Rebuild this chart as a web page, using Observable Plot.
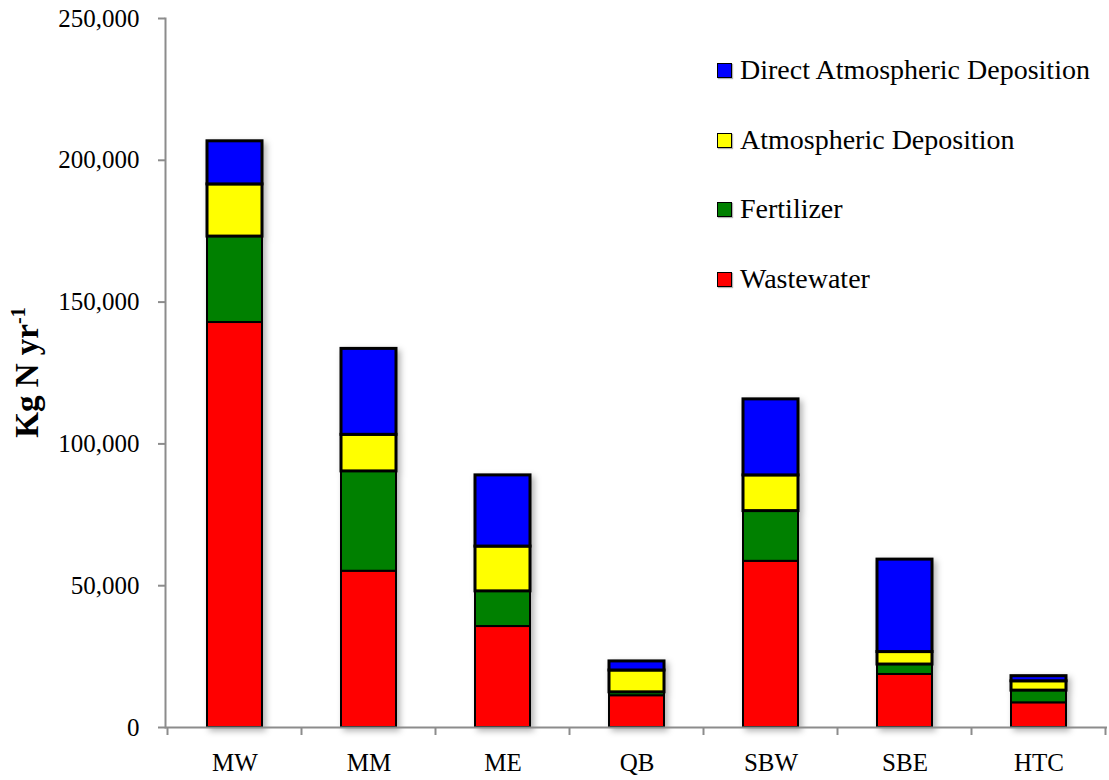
<!DOCTYPE html>
<html>
<head>
<meta charset="utf-8">
<script src="https://cdn.jsdelivr.net/npm/d3@7"></script>
<script src="https://cdn.jsdelivr.net/npm/@observablehq/plot@0.6"></script>
<style>
  body { margin: 0; background: #fff; font-family: "Liberation Serif", "Times New Roman", serif; }
  #chart { position: relative; width: 1109px; height: 780px; }
  .legend { position: absolute; left: 717px; top: 0; }
  .legend .row { position: absolute; left: 0; height: 30px; display: flex; align-items: center;
                 white-space: nowrap; font-size: 28px; color: #000; }
  .legend .sw { width: 13px; height: 13px; border: 1px solid #000; margin-right: 8px;
                box-shadow: 1px 1px 1px rgba(0,0,0,0.3); }
</style>
</head>
<body>
<div id="chart"></div>
<script>
// Nitrogen loads by watershed (kg N per year), one array per source
const sites = ["MW", "MM", "ME", "QB", "SBW", "SBE", "HTC"];
const sources = ["Wastewater", "Fertilizer", "Atmospheric Deposition", "Direct Atmospheric Deposition"];
const wastewater        = [142800, 55100, 35600, 11200, 58600, 18700, 8700];
const fertilizer        = [30300, 35200, 12400, 1200, 17700, 3500, 4300];
const atmospheric       = [18400, 12900, 15800, 7700, 12600, 4400, 3300];
const directAtmospheric = [15200, 30300, 25100, 3200, 26800, 32600, 1800];
const sourceColors = ["#ff0000", "#008000", "#ffff00", "#0000ff"];
const yTicks = [0, 50000, 100000, 150000, 200000, 250000];
const yTitle = "Kg N yr";
const yTitleSup = "-1";

const seriesValues = [wastewater, fertilizer, atmospheric, directAtmospheric];
const rows = sites.flatMap((site, i) =>
  sources.map((source, s) => ({ site, source, value: seriesValues[s][i] }))
);

const plot = Plot.plot({
  width: 1109,
  height: 780,
  marginLeft: 165,
  marginRight: 2,
  marginTop: 18,
  marginBottom: 53,
  style: { fontFamily: "Liberation Serif, Times New Roman, serif", fontSize: "25px", color: "#000", background: "#fff", overflow: "visible" },
  x: { domain: sites, paddingInner: 0.59, paddingOuter: 0.295, label: null },
  y: { domain: [0, 250000], label: null },
  color: { domain: sources, range: sourceColors },
  marks: [
    Plot.barY(rows, {
      x: "site", y: "value", fill: "source", order: sources,
      stroke: "#000",
      strokeWidth: d => d.source.endsWith("Deposition") ? 3 : 2
    }),
    Plot.ruleY([0], { stroke: "#8c8c8c", strokeWidth: 2 }),
    Plot.frame({ anchor: "left", stroke: "#8c8c8c", strokeWidth: 2 }),
    Plot.axisY({ ticks: yTicks, tickFormat: d3.format(","), tickSize: 7, tickPadding: 19,
                 stroke: "#8c8c8c", strokeWidth: 2, fill: "#000", label: null }),
    Plot.axisX({ tickSize: 0, tickPadding: 26, fill: "#000", label: null })
  ]
});

const chart = document.getElementById("chart");
chart.appendChild(plot);

const svg = d3.select(plot);
svg.selectAll("g[aria-label='bar']").style("filter", "drop-shadow(3px 3px 3px rgba(0,0,0,0.3))");

// Category separator ticks below the x axis, placed at the band edges
const xs = plot.scale("x");
const ys = plot.scale("y");
const starts = sites.map(s => xs.apply(s));
const step = starts[1] - starts[0];
const gap = (step - xs.bandwidth) / 2;
const edges = starts.map(v => v - gap).concat([starts[starts.length - 1] - gap + step]);
const y0 = ys.apply(0);
svg.append("g")
  .selectAll("line")
  .data(edges)
  .join("line")
  .attr("x1", d => d).attr("x2", d => d)
  .attr("y1", y0).attr("y2", y0 + 8)
  .attr("stroke", "#8c8c8c").attr("stroke-width", 2);

// Rotated y-axis title with superscript exponent
const yMid = (ys.apply(0) + ys.apply(250000)) / 2;
const title = svg.append("text")
  .attr("transform", `translate(38,${yMid}) rotate(-90)`)
  .attr("text-anchor", "middle")
  .attr("font-family", "Liberation Serif, Times New Roman, serif")
  .attr("font-weight", "bold")
  .attr("font-size", 33)
  .attr("fill", "#000");
title.append("tspan").text(yTitle);
title.append("tspan").attr("font-size", 20).attr("dy", -13).text(yTitleSup);

// Legend, top entry first
const legend = d3.select(chart).append("div").attr("class", "legend");
const legendTops = [55, 125, 194, 264];
const legendOrder = sources.map((s, i) => i).reverse();
legendOrder.forEach((si, k) => {
  const row = legend.append("div").attr("class", "row").style("top", legendTops[k] + "px");
  row.append("div").attr("class", "sw").style("background", sourceColors[si]);
  row.append("span").text(sources[si]);
});
</script>
</body>
</html>
